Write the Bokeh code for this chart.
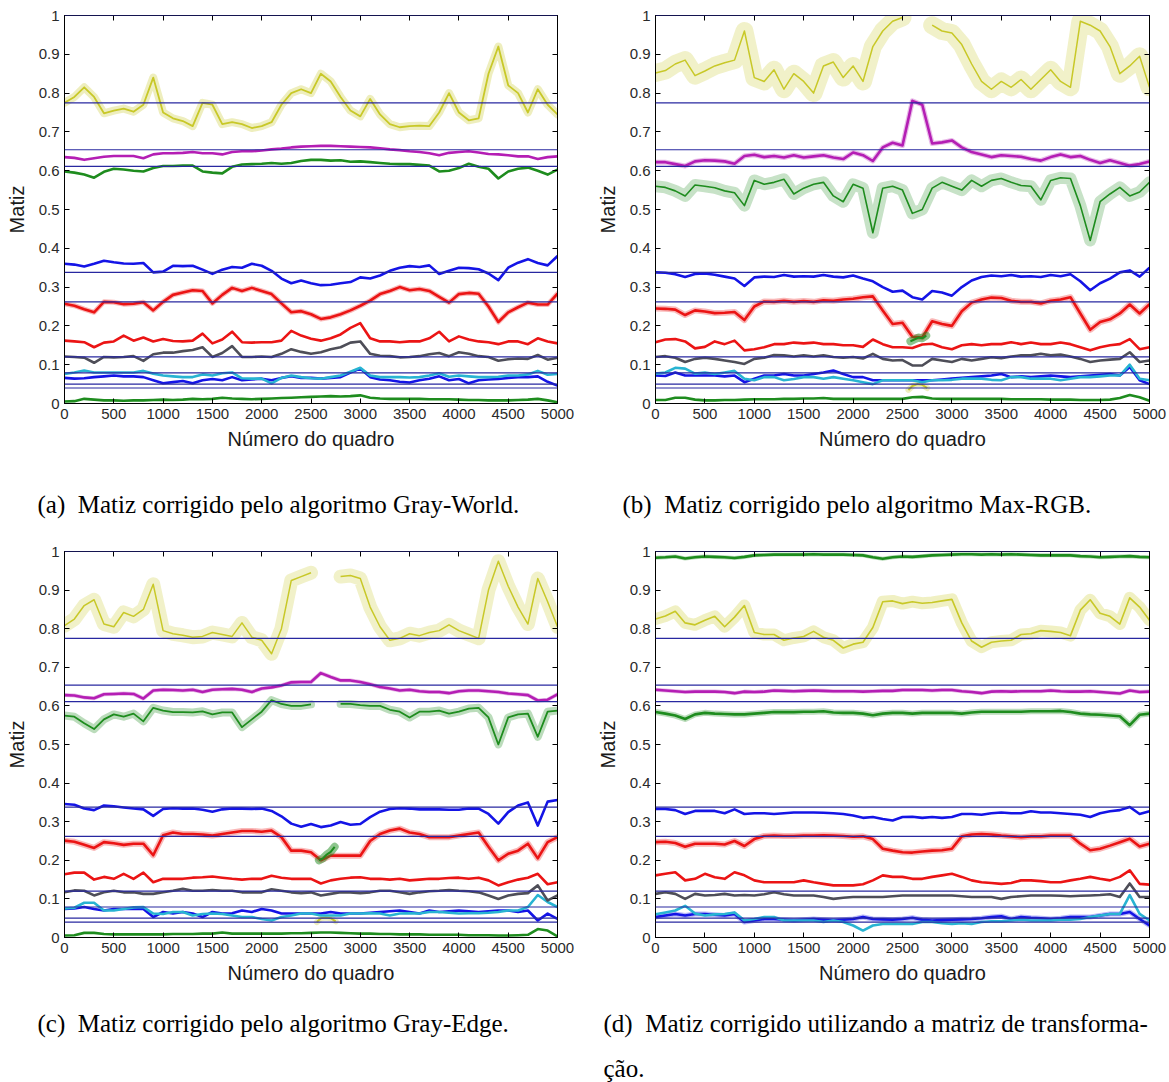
import numpy as np
from bokeh.plotting import figure
from bokeh.layouts import column, row
from bokeh.models import Range1d, LinearAxis, FixedTicker, CustomJSTickFormatter, Span
from bokeh.embed import file_html
from bokeh.resources import INLINE
from bokeh.core.properties import value

nan = float("nan")

# frame index shared by every hue trace (one reading every 100 frames)
frames = list(range(0, 5001, 100))

x_ticks = list(range(0, 5001, 500))
y_ticks = [0.0, 0.1, 0.2, 0.3, 0.4, 0.5, 0.6, 0.7, 0.8, 0.9, 1.0]

# reference hue of each colour patch (horizontal lines)
ref_levels = [1.0, 0.775, 0.654, 0.611, 0.338, 0.262, 0.12, 0.079, 0.05, 0.04]

# ---------------- (a) Gray-World ----------------
gw_yellow = [0.775, 0.79, 0.815, 0.79, 0.748, 0.755, 0.76, 0.752, 0.77, 0.84,
             0.75, 0.735, 0.728, 0.715, 0.775, 0.77, 0.72, 0.725, 0.72, 0.71,
             0.715, 0.725, 0.77, 0.80, 0.81, 0.80, 0.85, 0.83, 0.79, 0.755,
             0.74, 0.785, 0.745, 0.72, 0.712, 0.715, 0.716, 0.715, 0.75, 0.80,
             0.75, 0.73, 0.735, 0.85, 0.92, 0.82, 0.80, 0.75, 0.81, 0.77,
             0.745]
gw_magenta = [0.635, 0.633, 0.628, 0.632, 0.636, 0.638, 0.638, 0.638, 0.632, 0.642,
              0.645, 0.645, 0.646, 0.648, 0.645, 0.645, 0.642, 0.648, 0.65, 0.65,
              0.652, 0.655, 0.657, 0.66, 0.662, 0.663, 0.664, 0.664, 0.663, 0.662,
              0.661, 0.66, 0.658, 0.655, 0.653, 0.65, 0.648, 0.645, 0.64, 0.646,
              0.648, 0.65, 0.647, 0.643, 0.642, 0.64, 0.637, 0.637, 0.63, 0.635,
              0.637]
gw_green = [0.598, 0.595, 0.59, 0.582, 0.597, 0.605, 0.603, 0.6, 0.598, 0.607,
            0.612, 0.612, 0.613, 0.613, 0.598, 0.595, 0.593, 0.61, 0.616, 0.617,
            0.618, 0.62, 0.618, 0.62, 0.625, 0.628, 0.628, 0.626, 0.627, 0.623,
            0.624, 0.622, 0.62, 0.618, 0.617, 0.617, 0.615, 0.613, 0.598, 0.6,
            0.607, 0.618, 0.61, 0.605, 0.58, 0.598, 0.605, 0.608, 0.6, 0.59,
            0.603]
gw_blue = [0.36, 0.358, 0.353, 0.36, 0.368, 0.364, 0.361, 0.36, 0.362, 0.338,
           0.34, 0.355, 0.354, 0.355, 0.345, 0.334, 0.345, 0.352, 0.35, 0.36,
           0.355, 0.342, 0.322, 0.31, 0.317, 0.31, 0.305, 0.306, 0.31, 0.313,
           0.325, 0.322, 0.33, 0.342, 0.35, 0.354, 0.352, 0.356, 0.334, 0.342,
           0.35, 0.349, 0.346, 0.335, 0.318, 0.35, 0.363, 0.372, 0.362, 0.356,
           0.38]
gw_red_hi = [0.257, 0.252, 0.243, 0.235, 0.262, 0.261, 0.256, 0.257, 0.261, 0.24,
             0.262, 0.28, 0.286, 0.292, 0.29, 0.258, 0.28, 0.298, 0.29, 0.298,
             0.29, 0.282, 0.258, 0.235, 0.238, 0.23, 0.218, 0.222, 0.23, 0.24,
             0.252, 0.265, 0.282, 0.29, 0.3, 0.292, 0.295, 0.29, 0.275, 0.26,
             0.282, 0.285, 0.283, 0.25, 0.21, 0.235, 0.248, 0.26, 0.255, 0.255,
             0.283]
gw_red_lo = [0.162, 0.16, 0.158, 0.145, 0.157, 0.16, 0.175, 0.162, 0.17, 0.16,
             0.166, 0.161, 0.16, 0.162, 0.18, 0.155, 0.165, 0.185, 0.158, 0.157,
             0.158, 0.158, 0.162, 0.187, 0.175, 0.167, 0.162, 0.168, 0.178, 0.195,
             0.207, 0.168, 0.16, 0.16, 0.158, 0.16, 0.16, 0.168, 0.185, 0.16,
             0.173, 0.165, 0.16, 0.158, 0.153, 0.16, 0.16, 0.153, 0.168, 0.16,
             0.155]
gw_gray = [0.121, 0.12, 0.118, 0.105, 0.12, 0.119, 0.12, 0.122, 0.11, 0.127,
           0.131, 0.131, 0.135, 0.138, 0.145, 0.12, 0.13, 0.148, 0.12, 0.12,
           0.121, 0.12, 0.128, 0.14, 0.133, 0.128, 0.132, 0.14, 0.145, 0.157,
           0.16, 0.128, 0.123, 0.122, 0.119, 0.12, 0.122, 0.127, 0.13, 0.122,
           0.132, 0.128, 0.122, 0.12, 0.11, 0.114, 0.116, 0.115, 0.125, 0.113,
           0.118]
gw_cyan = [0.076, 0.08, 0.085, 0.08, 0.08, 0.08, 0.08, 0.08, 0.084, 0.077,
           0.072, 0.07, 0.068, 0.068, 0.075, 0.072, 0.078, 0.08, 0.065, 0.064,
           0.064, 0.052, 0.066, 0.072, 0.068, 0.065, 0.064, 0.068, 0.072, 0.082,
           0.092, 0.072, 0.068, 0.068, 0.068, 0.067, 0.068, 0.072, 0.078, 0.069,
           0.072, 0.07, 0.068, 0.068, 0.069, 0.072, 0.072, 0.075, 0.084, 0.074,
           0.076]
gw_blue_lo = [0.066, 0.064, 0.065, 0.068, 0.07, 0.072, 0.07, 0.07, 0.068, 0.06,
              0.052, 0.055, 0.058, 0.052, 0.06, 0.063, 0.06, 0.068, 0.06, 0.062,
              0.064, 0.06, 0.066, 0.07, 0.066, 0.066, 0.064, 0.066, 0.068, 0.08,
              0.09, 0.068, 0.062, 0.06, 0.056, 0.054, 0.06, 0.064, 0.07, 0.06,
              0.063, 0.052, 0.06, 0.062, 0.063, 0.066, 0.068, 0.068, 0.07, 0.056,
              0.046]
gw_green_lo = [0.005, 0.006, 0.012, 0.01, 0.008, 0.008, 0.007, 0.008, 0.008, 0.009,
               0.01, 0.009, 0.01, 0.012, 0.011, 0.012, 0.015, 0.013, 0.012, 0.011,
               0.012, 0.013, 0.014, 0.015, 0.016, 0.017, 0.018, 0.019, 0.018, 0.019,
               0.021, 0.015, 0.013, 0.012, 0.012, 0.012, 0.012, 0.011, 0.011, 0.011,
               0.01, 0.009, 0.009, 0.008, 0.008, 0.008, 0.009, 0.01, 0.012, 0.008,
               0.003]

# ---------------- (b) Max-RGB ----------------
mx_yellow = [0.852, 0.858, 0.875, 0.885, 0.845, 0.857, 0.87, 0.878, 0.885, 0.96,
             0.84, 0.83, 0.86, 0.81, 0.85, 0.83, 0.80, 0.87, 0.88, 0.84,
             0.87, 0.83, 0.92, 0.96, 0.985, 0.995, nan, nan, 0.975, 0.96,
             0.955, 0.925, 0.875, 0.83, 0.81, 0.83, 0.815, 0.835, 0.81, 0.835,
             0.86, 0.83, 0.815, 0.985, 0.975, 0.96, 0.92, 0.85, 0.87, 0.895,
             0.815]
mx_magenta = [0.622, 0.622, 0.617, 0.612, 0.624, 0.627, 0.626, 0.624, 0.618, 0.638,
              0.641, 0.635, 0.638, 0.634, 0.64, 0.634, 0.637, 0.64, 0.634, 0.63,
              0.647, 0.64, 0.625, 0.66, 0.672, 0.665, 0.78, 0.77, 0.67, 0.673,
              0.678, 0.66, 0.648, 0.642, 0.635, 0.64, 0.638, 0.636, 0.63, 0.626,
              0.635, 0.642, 0.635, 0.638, 0.628, 0.62, 0.627, 0.62, 0.613, 0.617,
              0.624]
mx_green = [0.56, 0.557, 0.548, 0.535, 0.563, 0.56, 0.556, 0.548, 0.543, 0.51,
            0.575, 0.565, 0.57, 0.578, 0.54, 0.555, 0.565, 0.57, 0.535, 0.52,
            0.565, 0.555, 0.44, 0.555, 0.56, 0.55, 0.49, 0.5, 0.555, 0.57,
            0.56, 0.55, 0.575, 0.56, 0.575, 0.58, 0.57, 0.562, 0.56, 0.525,
            0.575, 0.582, 0.58, 0.51, 0.42, 0.52, 0.54, 0.557, 0.535, 0.545,
            0.57]
mx_blue = [0.338, 0.337, 0.333, 0.326, 0.334, 0.335, 0.332, 0.327, 0.322, 0.303,
           0.325, 0.327, 0.326, 0.331, 0.327, 0.328, 0.327, 0.331, 0.327, 0.325,
           0.33, 0.322, 0.315, 0.3, 0.288, 0.291, 0.274, 0.268, 0.29, 0.286,
           0.278, 0.3, 0.317, 0.326, 0.33, 0.328, 0.331, 0.327, 0.328, 0.326,
           0.331, 0.328, 0.333, 0.315, 0.292, 0.31, 0.322, 0.338, 0.343, 0.327,
           0.35]
mx_red_hi = [0.245, 0.244, 0.242, 0.228, 0.24, 0.237, 0.233, 0.234, 0.236, 0.215,
             0.25, 0.263, 0.262, 0.265, 0.262, 0.264, 0.262, 0.266, 0.265, 0.268,
             0.27, 0.274, 0.276, 0.24, 0.205, 0.208, 0.172, 0.17, 0.212, 0.205,
             0.2, 0.238, 0.26, 0.268, 0.273, 0.272, 0.265, 0.262, 0.262, 0.258,
             0.265, 0.268, 0.274, 0.232, 0.19, 0.21, 0.217, 0.232, 0.255, 0.232,
             0.256]
mx_red_lo = [0.158, 0.165, 0.166, 0.16, 0.142, 0.146, 0.16, 0.153, 0.162, 0.137,
             0.14, 0.145, 0.153, 0.153, 0.157, 0.155, 0.157, 0.153, 0.153, 0.15,
             0.15, 0.146, 0.165, 0.153, 0.145, 0.145, 0.143, 0.152, 0.154, 0.145,
             0.14, 0.15, 0.153, 0.15, 0.153, 0.153, 0.158, 0.153, 0.157, 0.153,
             0.153, 0.157, 0.153, 0.145, 0.137, 0.145, 0.15, 0.153, 0.166, 0.14,
             0.145]
mx_gray = [0.12, 0.122, 0.118, 0.107, 0.115, 0.118, 0.115, 0.111, 0.107, 0.102,
           0.115, 0.118, 0.125, 0.124, 0.121, 0.124, 0.121, 0.124, 0.12, 0.118,
           0.12, 0.116, 0.128, 0.115, 0.111, 0.112, 0.098, 0.098, 0.115, 0.111,
           0.107, 0.115, 0.111, 0.115, 0.119, 0.117, 0.121, 0.124, 0.124, 0.128,
           0.124, 0.126, 0.121, 0.115, 0.107, 0.111, 0.113, 0.115, 0.132, 0.107,
           0.111]
mx_cyan = [0.077, 0.08, 0.092, 0.09, 0.077, 0.08, 0.076, 0.08, 0.084, 0.064,
           0.06, 0.068, 0.068, 0.06, 0.063, 0.068, 0.068, 0.064, 0.068, 0.064,
           0.06, 0.055, 0.05, 0.06, 0.06, 0.06, 0.06, 0.055, 0.06, 0.06,
           0.061, 0.064, 0.064, 0.064, 0.061, 0.06, 0.068, 0.068, 0.064, 0.064,
           0.064, 0.06, 0.064, 0.068, 0.068, 0.07, 0.072, 0.072, 0.1, 0.064,
           0.06]
mx_blue_lo = [0.072, 0.071, 0.08, 0.072, 0.072, 0.072, 0.072, 0.07, 0.072, 0.055,
              0.064, 0.072, 0.072, 0.076, 0.072, 0.072, 0.076, 0.08, 0.085, 0.076,
              0.068, 0.068, 0.06, 0.06, 0.06, 0.06, 0.06, 0.06, 0.06, 0.062,
              0.064, 0.066, 0.068, 0.07, 0.072, 0.076, 0.068, 0.07, 0.068, 0.07,
              0.072, 0.07, 0.068, 0.07, 0.072, 0.074, 0.076, 0.072, 0.094, 0.06,
              0.05]
mx_green_lo = [0.009, 0.009, 0.015, 0.015, 0.01, 0.008, 0.008, 0.009, 0.009, 0.01,
               0.011, 0.011, 0.011, 0.012, 0.012, 0.013, 0.013, 0.014, 0.012, 0.012,
               0.012, 0.012, 0.012, 0.012, 0.012, 0.012, 0.016, 0.017, 0.013, 0.012,
               0.012, 0.012, 0.012, 0.012, 0.012, 0.012, 0.011, 0.011, 0.011, 0.011,
               0.01, 0.01, 0.01, 0.009, 0.009, 0.009, 0.01, 0.014, 0.022, 0.016,
               0.007]

# ---------------- (c) Gray-Edge ----------------
ge_yellow = [0.808, 0.825, 0.86, 0.875, 0.812, 0.805, 0.842, 0.832, 0.85, 0.915,
             0.795, 0.787, 0.783, 0.778, 0.78, 0.79, 0.785, 0.78, 0.815, 0.778,
             0.77, 0.735, 0.8, 0.925, 0.935, 0.945, nan, nan, 0.935, 0.938,
             0.93, 0.856, 0.805, 0.77, 0.775, 0.787, 0.782, 0.79, 0.795, 0.81,
             0.795, 0.785, 0.775, 0.9, 0.975, 0.91, 0.856, 0.812, 0.93, 0.87,
             0.805]
ge_magenta = [0.628, 0.627, 0.622, 0.62, 0.63, 0.631, 0.632, 0.631, 0.619, 0.64,
              0.642, 0.641, 0.64, 0.642, 0.636, 0.642, 0.643, 0.644, 0.642, 0.636,
              0.645, 0.648, 0.653, 0.661, 0.662, 0.662, 0.685, 0.675, 0.666, 0.666,
              0.662, 0.656, 0.649, 0.645, 0.64, 0.642, 0.638, 0.636, 0.636, 0.633,
              0.638, 0.64, 0.64, 0.638, 0.636, 0.632, 0.63, 0.628, 0.614, 0.616,
              0.63]
ge_green = [0.575, 0.572, 0.555, 0.54, 0.565, 0.578, 0.572, 0.58, 0.56, 0.595,
            0.588, 0.584, 0.584, 0.583, 0.586, 0.578, 0.583, 0.583, 0.545, 0.565,
            0.585, 0.615, 0.605, 0.6, 0.6, 0.604, nan, nan, 0.605, 0.605,
            0.602, 0.6, 0.6, 0.59, 0.585, 0.57, 0.585, 0.585, 0.588, 0.58,
            0.585, 0.593, 0.595, 0.57, 0.5, 0.57, 0.578, 0.58, 0.52, 0.585,
            0.588]
ge_blue = [0.346, 0.344, 0.334, 0.33, 0.342, 0.34, 0.337, 0.334, 0.332, 0.315,
           0.333, 0.335, 0.334, 0.334, 0.331, 0.326, 0.332, 0.334, 0.334, 0.333,
           0.334, 0.328, 0.314, 0.295, 0.287, 0.294, 0.286, 0.29, 0.299, 0.292,
           0.294, 0.312, 0.326, 0.333, 0.335, 0.334, 0.332, 0.332, 0.332, 0.331,
           0.331, 0.334, 0.334, 0.32, 0.295, 0.325, 0.342, 0.35, 0.29, 0.352,
           0.356]
ge_red_hi = [0.251, 0.248, 0.24, 0.232, 0.247, 0.244, 0.24, 0.243, 0.243, 0.213,
             0.265, 0.272, 0.268, 0.268, 0.267, 0.264, 0.268, 0.272, 0.276, 0.276,
             0.274, 0.277, 0.26, 0.225, 0.225, 0.221, 0.2, 0.212, 0.212, 0.212,
             0.212, 0.25, 0.268, 0.277, 0.282, 0.272, 0.268, 0.26, 0.26, 0.26,
             0.264, 0.268, 0.272, 0.235, 0.2, 0.217, 0.225, 0.243, 0.205, 0.247,
             0.26]
ge_red_lo = [0.164, 0.168, 0.168, 0.15, 0.157, 0.152, 0.165, 0.152, 0.168, 0.143,
             0.152, 0.152, 0.152, 0.155, 0.156, 0.158, 0.155, 0.152, 0.15, 0.152,
             0.152, 0.16, 0.155, 0.152, 0.152, 0.152, 0.14, 0.148, 0.152, 0.155,
             0.156, 0.152, 0.152, 0.15, 0.152, 0.148, 0.15, 0.152, 0.152, 0.154,
             0.155, 0.152, 0.155, 0.148, 0.135, 0.143, 0.15, 0.155, 0.165, 0.138,
             0.143]
ge_gray = [0.117, 0.122, 0.121, 0.109, 0.117, 0.121, 0.117, 0.117, 0.113, 0.113,
           0.117, 0.121, 0.126, 0.121, 0.121, 0.123, 0.121, 0.121, 0.117, 0.117,
           0.117, 0.125, 0.121, 0.117, 0.115, 0.117, 0.109, 0.113, 0.117, 0.117,
           0.115, 0.117, 0.121, 0.121, 0.117, 0.113, 0.117, 0.12, 0.121, 0.123,
           0.121, 0.12, 0.117, 0.109, 0.1, 0.109, 0.113, 0.115, 0.135, 0.096,
           0.109]
ge_cyan = [0.075, 0.077, 0.09, 0.09, 0.07, 0.07, 0.074, 0.078, 0.079, 0.062,
           0.061, 0.066, 0.066, 0.057, 0.061, 0.062, 0.061, 0.057, 0.053, 0.053,
           0.048, 0.044, 0.053, 0.057, 0.062, 0.062, 0.057, 0.057, 0.057, 0.062,
           0.062, 0.063, 0.062, 0.057, 0.062, 0.063, 0.062, 0.066, 0.066, 0.064,
           0.062, 0.063, 0.063, 0.064, 0.066, 0.07, 0.07, 0.079, 0.11, 0.092,
           0.079]
ge_blue_lo = [0.074, 0.075, 0.079, 0.074, 0.07, 0.074, 0.074, 0.074, 0.074, 0.053,
              0.066, 0.062, 0.066, 0.062, 0.053, 0.066, 0.062, 0.063, 0.07, 0.066,
              0.074, 0.07, 0.062, 0.062, 0.062, 0.062, 0.062, 0.066, 0.062, 0.062,
              0.062, 0.064, 0.066, 0.068, 0.07, 0.066, 0.062, 0.07, 0.066, 0.068,
              0.07, 0.068, 0.066, 0.068, 0.07, 0.07, 0.066, 0.07, 0.044, 0.062,
              0.048]
ge_green_lo = [0.005, 0.006, 0.012, 0.012, 0.009, 0.008, 0.008, 0.008, 0.008, 0.008,
               0.008, 0.009, 0.009, 0.009, 0.01, 0.01, 0.013, 0.01, 0.01, 0.01,
               0.01, 0.01, 0.01, 0.011, 0.011, 0.012, 0.013, 0.013, 0.012, 0.011,
               0.01, 0.01, 0.009, 0.009, 0.008, 0.008, 0.008, 0.007, 0.007, 0.007,
               0.007, 0.006, 0.006, 0.006, 0.005, 0.005, 0.006, 0.007, 0.022, 0.018,
               0.003]

# short stretches where the yellow hue wraps round to the bottom of the scale,
# and the green patch that shows up over the red band in the same frames
wrap_frames = [2560, 2600, 2650, 2700, 2750]
mx_yellow_wrap = [0.035, 0.045, 0.05, 0.048, 0.04]
ge_yellow_wrap = [0.04, 0.05, 0.052, 0.05, 0.042]
blob_frames = [2580, 2620, 2660, 2700, 2740]
mx_green_blob = [0.16, 0.165, 0.17, 0.168, 0.175]
ge_green_blob = [0.2, 0.205, 0.215, 0.222, 0.235]

# ---------------- (d) transformation matrix ----------------
tm_green_top = [0.984, 0.985, 0.987, 0.982, 0.985, 0.987, 0.986, 0.985, 0.983, 0.986,
                0.99, 0.991, 0.992, 0.992, 0.992, 0.992, 0.993, 0.992, 0.992, 0.992,
                0.991, 0.99, 0.985, 0.981, 0.985, 0.987, 0.986, 0.988, 0.99, 0.991,
                0.992, 0.993, 0.993, 0.992, 0.993, 0.992, 0.993, 0.992, 0.991, 0.99,
                0.99, 0.99, 0.99, 0.988, 0.987, 0.985, 0.986, 0.987, 0.988, 0.986,
                0.985]
tm_yellow = [0.825, 0.833, 0.845, 0.815, 0.81, 0.822, 0.832, 0.805, 0.83, 0.86,
             0.79, 0.785, 0.785, 0.77, 0.776, 0.78, 0.793, 0.778, 0.77, 0.75,
             0.76, 0.765, 0.803, 0.87, 0.872, 0.865, 0.87, 0.866, 0.868, 0.872,
             0.876, 0.815, 0.768, 0.752, 0.765, 0.768, 0.77, 0.785, 0.787, 0.795,
             0.793, 0.79, 0.782, 0.848, 0.875, 0.84, 0.832, 0.812, 0.88, 0.856,
             0.822]
tm_magenta = [0.642, 0.64, 0.638, 0.636, 0.637, 0.637, 0.637, 0.636, 0.633, 0.637,
              0.636, 0.637, 0.64, 0.639, 0.638, 0.639, 0.64, 0.639, 0.638, 0.638,
              0.638, 0.637, 0.638, 0.639, 0.639, 0.641, 0.641, 0.641, 0.64, 0.641,
              0.641, 0.638, 0.636, 0.633, 0.637, 0.638, 0.637, 0.638, 0.638, 0.638,
              0.64, 0.638, 0.637, 0.637, 0.638, 0.636, 0.634, 0.632, 0.64, 0.636,
              0.637]
tm_green = [0.584, 0.58, 0.575, 0.566, 0.578, 0.582, 0.58, 0.579, 0.578, 0.578,
            0.58, 0.582, 0.584, 0.584, 0.584, 0.585, 0.585, 0.586, 0.583, 0.582,
            0.582, 0.58, 0.576, 0.58, 0.582, 0.582, 0.58, 0.582, 0.582, 0.582,
            0.582, 0.58, 0.583, 0.585, 0.585, 0.585, 0.585, 0.585, 0.586, 0.586,
            0.586, 0.587, 0.584, 0.58, 0.578, 0.577, 0.575, 0.573, 0.55, 0.577,
            0.58]
tm_blue = [0.333, 0.333, 0.33, 0.32, 0.328, 0.328, 0.328, 0.322, 0.332, 0.32,
           0.322, 0.322, 0.32, 0.322, 0.324, 0.324, 0.324, 0.323, 0.322, 0.32,
           0.316, 0.31, 0.312, 0.307, 0.303, 0.312, 0.313, 0.31, 0.312, 0.31,
           0.312, 0.32, 0.32, 0.318, 0.322, 0.324, 0.322, 0.322, 0.327, 0.324,
           0.324, 0.322, 0.32, 0.318, 0.312, 0.322, 0.327, 0.33, 0.338, 0.32,
           0.327]
tm_red_hi = [0.247, 0.248, 0.245, 0.235, 0.243, 0.243, 0.243, 0.241, 0.25, 0.237,
             0.255, 0.263, 0.264, 0.263, 0.263, 0.264, 0.264, 0.265, 0.264, 0.263,
             0.261, 0.262, 0.255, 0.23, 0.225, 0.221, 0.22, 0.223, 0.225, 0.226,
             0.23, 0.262, 0.267, 0.268, 0.267, 0.264, 0.262, 0.26, 0.262, 0.262,
             0.264, 0.264, 0.264, 0.243, 0.226, 0.23, 0.238, 0.247, 0.256, 0.236,
             0.243]
tm_red_lo = [0.161, 0.165, 0.169, 0.148, 0.152, 0.165, 0.156, 0.152, 0.169, 0.161,
             0.148, 0.143, 0.143, 0.143, 0.143, 0.148, 0.143, 0.139, 0.135, 0.135,
             0.135, 0.138, 0.148, 0.161, 0.157, 0.157, 0.152, 0.152, 0.157, 0.161,
             0.165, 0.157, 0.148, 0.143, 0.141, 0.139, 0.141, 0.148, 0.148, 0.146,
             0.143, 0.143, 0.148, 0.152, 0.157, 0.152, 0.148, 0.157, 0.174, 0.139,
             0.137]
tm_gray = [0.113, 0.117, 0.113, 0.1, 0.113, 0.109, 0.11, 0.113, 0.109, 0.11,
           0.109, 0.112, 0.117, 0.112, 0.109, 0.109, 0.109, 0.105, 0.1, 0.103,
           0.105, 0.105, 0.105, 0.105, 0.107, 0.109, 0.109, 0.109, 0.109, 0.109,
           0.109, 0.107, 0.105, 0.105, 0.105, 0.1, 0.105, 0.107, 0.109, 0.109,
           0.109, 0.108, 0.107, 0.108, 0.109, 0.11, 0.112, 0.105, 0.14, 0.105,
           0.105]
tm_cyan = [0.06, 0.065, 0.07, 0.082, 0.062, 0.057, 0.06, 0.061, 0.065, 0.044,
           0.048, 0.053, 0.053, 0.044, 0.044, 0.044, 0.044, 0.04, 0.044, 0.04,
           0.031, 0.018, 0.031, 0.035, 0.035, 0.035, 0.035, 0.04, 0.04, 0.037,
           0.035, 0.037, 0.035, 0.04, 0.042, 0.042, 0.044, 0.046, 0.044, 0.044,
           0.044, 0.046, 0.046, 0.048, 0.053, 0.057, 0.061, 0.061, 0.11, 0.061,
           0.044]
tm_blue_lo = [0.053, 0.057, 0.061, 0.057, 0.061, 0.061, 0.059, 0.057, 0.061, 0.04,
              0.044, 0.048, 0.048, 0.046, 0.044, 0.046, 0.048, 0.046, 0.044, 0.046,
              0.048, 0.053, 0.048, 0.047, 0.046, 0.048, 0.051, 0.046, 0.044, 0.045,
              0.046, 0.047, 0.048, 0.05, 0.053, 0.055, 0.048, 0.053, 0.051, 0.05,
              0.048, 0.05, 0.053, 0.053, 0.053, 0.057, 0.061, 0.061, 0.066, 0.048,
              0.031]

cap_a = "(a)\u00a0 Matiz corrigido pelo algoritmo Gray-World."
cap_b = "(b)\u00a0 Matiz corrigido pelo algoritmo Max-RGB."
cap_c = "(c)\u00a0 Matiz corrigido pelo algoritmo Gray-Edge."
cap_d1 = "(d)\u00a0 Matiz corrigido utilizando a matriz de transforma-"
cap_d2 = "ção."

# ---------------- styling ----------------
YEL = "#c8c828"
MAG = "#b41eb4"
GRN = "#1e8c1e"
BLU = "#1414e6"
RED = "#eb1414"
GRY = "#4e4e58"
CYN = "#28b4d2"
REF = "#2828a0"
SANS = "Liberation Sans"
SERIF = "Liberation Serif"


def trace(p, xs, ys, color, width=2.6, halo=0, halo_alpha=0.3):
    xs = np.asarray(xs, dtype=float)
    ys = np.asarray(ys, dtype=float)
    if halo:
        p.line(xs, ys, line_color=color, line_width=halo, line_alpha=halo_alpha,
               line_join="round", line_cap="round")
    p.line(xs, ys, line_color=color, line_width=width, line_join="round")


def hidden_label_axis(ticks):
    ax = LinearAxis(ticker=FixedTicker(ticks=ticks),
                    formatter=CustomJSTickFormatter(code="return '';"))
    ax.major_label_text_font_size = "1px"
    ax.major_label_standoff = 0
    ax.major_tick_in = 5
    ax.major_tick_out = 0
    ax.minor_tick_line_color = None
    ax.axis_line_color = "black"
    ax.major_tick_line_color = "black"
    return ax


def panel(width, height, left, right, top, bottom):
    p = figure(width=width, height=height,
               x_range=Range1d(0, 5000), y_range=Range1d(0, 1),
               output_backend="svg", toolbar_location=None,
               min_border_left=left, min_border_right=right,
               min_border_top=top, min_border_bottom=bottom,
               x_axis_label="Número do quadro", y_axis_label="Matiz")
    p.grid.visible = False
    p.outline_line_color = "black"
    p.background_fill_color = "white"
    p.border_fill_color = "white"

    p.xaxis.ticker = FixedTicker(ticks=x_ticks)
    p.yaxis.ticker = FixedTicker(ticks=y_ticks)
    p.yaxis.formatter = CustomJSTickFormatter(
        code="return Number(tick.toFixed(2)).toString();")
    for ax in (p.xaxis[0], p.yaxis[0]):
        ax.major_tick_in = 5
        ax.major_tick_out = 0
        ax.minor_tick_line_color = None
        ax.axis_line_color = "black"
        ax.major_tick_line_color = "black"
        ax.major_label_text_font = SANS
        ax.major_label_text_font_size = "15px"
        ax.major_label_text_color = "#2a2a2a"
        ax.major_label_standoff = 5
        ax.axis_label_text_font = SANS
        ax.axis_label_text_font_size = "20px"
        ax.axis_label_text_font_style = "normal"
        ax.axis_label_text_color = "#1a1a1a"
    p.xaxis.axis_label_standoff = 6
    p.yaxis.axis_label_standoff = 8

    p.add_layout(hidden_label_axis(x_ticks), "above")
    p.add_layout(hidden_label_axis(y_ticks), "right")
    return p


def add_refs(p):
    for lvl in ref_levels:
        p.add_layout(Span(location=lvl, dimension="width", line_color=REF,
                          line_width=1.2))


def caption(width, height, xs, ys, texts):
    c = figure(width=width, height=height,
               x_range=Range1d(0, width), y_range=Range1d(height, 0),
               output_backend="svg", toolbar_location=None,
               x_axis_location=None, y_axis_location=None,
               min_border=0, outline_line_color=None)
    c.grid.visible = False
    c.text(x=xs, y=ys, text=texts, text_font=value(SERIF),
           text_font_size="25px", text_baseline="alphabetic",
           text_align="left", text_color="black")
    return c


# (a)
pa = panel(585, 460, 64, 28, 15, 57)
trace(pa, frames, gw_green_lo, GRN)
trace(pa, frames, gw_blue_lo, BLU)
trace(pa, frames, gw_cyan, CYN)
trace(pa, frames, gw_gray, GRY)
trace(pa, frames, gw_red_lo, RED)
trace(pa, frames, gw_red_hi, RED, halo=5)
trace(pa, frames, gw_blue, BLU)
trace(pa, frames, gw_green, GRN)
trace(pa, frames, gw_magenta, MAG)
trace(pa, frames, gw_yellow, YEL, width=1.8, halo=8)
add_refs(pa)

# (b)
pb = panel(584, 460, 70, 20, 15, 57)
trace(pb, frames, mx_green_lo, GRN)
trace(pb, wrap_frames, mx_yellow_wrap, YEL, width=2, halo=6)
trace(pb, frames, mx_blue_lo, BLU)
trace(pb, frames, mx_cyan, CYN)
trace(pb, frames, mx_gray, GRY)
trace(pb, frames, mx_red_lo, RED)
trace(pb, frames, mx_red_hi, RED, halo=6)
trace(pb, blob_frames, mx_green_blob, GRN, width=2, halo=8, halo_alpha=0.5)
trace(pb, frames, mx_blue, BLU)
trace(pb, frames, mx_green, GRN, width=1.6, halo=12, halo_alpha=0.25)
trace(pb, frames, mx_magenta, MAG, halo=5)
trace(pb, frames, mx_yellow, YEL, width=1.5, halo=18, halo_alpha=0.25)
add_refs(pb)

# (c)
pc = panel(585, 470, 64, 28, 27, 57)
trace(pc, frames, ge_green_lo, GRN)
trace(pc, wrap_frames, ge_yellow_wrap, YEL, width=2, halo=6)
trace(pc, frames, ge_blue_lo, BLU)
trace(pc, frames, ge_cyan, CYN)
trace(pc, frames, ge_gray, GRY)
trace(pc, frames, ge_red_lo, RED)
trace(pc, frames, ge_red_hi, RED, halo=6)
trace(pc, blob_frames, ge_green_blob, GRN, width=2, halo=8, halo_alpha=0.5)
trace(pc, frames, ge_blue, BLU)
trace(pc, frames, ge_green, GRN, width=1.8, halo=8)
trace(pc, frames, ge_magenta, MAG, halo=4)
trace(pc, frames, ge_yellow, YEL, width=1.5, halo=14, halo_alpha=0.25)
add_refs(pc)

# (d)
pd = panel(584, 470, 70, 20, 27, 57)
trace(pd, frames, tm_blue_lo, BLU, halo=5)
trace(pd, frames, tm_cyan, CYN)
trace(pd, frames, tm_gray, GRY)
trace(pd, frames, tm_red_lo, RED)
trace(pd, frames, tm_red_hi, RED, halo=6)
trace(pd, frames, tm_blue, BLU)
trace(pd, frames, tm_green, GRN, halo=6)
trace(pd, frames, tm_magenta, MAG, halo=4)
trace(pd, frames, tm_yellow, YEL, width=1.6, halo=12, halo_alpha=0.28)
trace(pd, frames, tm_green_top, GRN, halo=4)
add_refs(pd)

ca = caption(585, 64, [37], [44], [cap_a])
cb = caption(584, 64, [37], [44], [cap_b])
cc = caption(585, 88, [37], [29], [cap_c])
cd = caption(584, 88, [18, 18], [29, 74], [cap_d1, cap_d2])

layout = column(row(pa, pb), row(ca, cb), row(pc, pd), row(cc, cd))

open("out.html", "w").write(file_html(layout, INLINE))
